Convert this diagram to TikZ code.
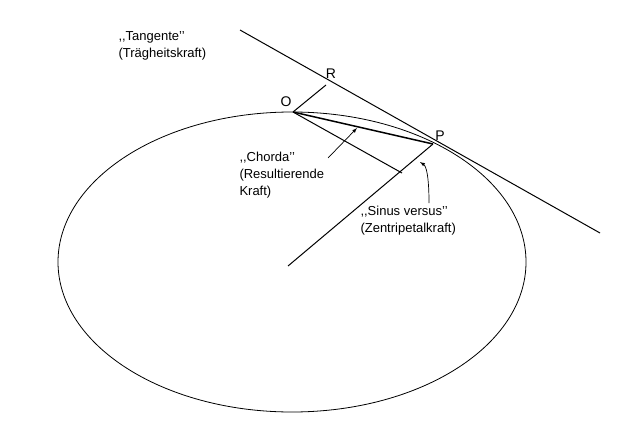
\documentclass[tikz,border=0pt]{standalone}
\usepackage{fontspec}
\setmainfont{Liberation Sans}
\begin{document}
\begin{tikzpicture}[x=1pt,y=-1pt,line width=1pt,
  lbl/.style={font=\fontsize{13}{17}\selectfont,align=left,anchor=north west,inner sep=0pt},
  pt/.style={font=\fontsize{14}{15}\selectfont,inner sep=0pt}]
\useasboundingbox (0,0) rectangle (644,433);
\draw[line width=0.8pt] (292,262) ellipse [x radius=234, y radius=150];
\coordinate (O) at (293,112);
\coordinate (P) at (433,144);
\coordinate (R) at (326,85);
\coordinate (T1) at (240,30);
\coordinate (T2) at (600,233);
\coordinate (F) at (402,173);
\coordinate (C) at (288,266);
\draw (T1) -- (T2);
\draw (O) -- (R);
\draw[line width=1.5pt] (O) -- (P);
\draw (O) -- (F);
\draw (C) -- (P);
\node[pt] at (331,74) {R};
\node[pt] at (286,102) {O};
\node[pt] at (440,136) {P};
\node[lbl] (t) at (118,31) {{,}{,}Tangente'{}'\\(Trägheitskraft)};
\node[lbl] (ch) at (239,152) {{,}{,}Chorda'{}'\\(Resultierende\\Kraft)};
\node[lbl] (sv) at (360,206) {{,}{,}Sinus versus'{}'\\(Zentripetalkraft)};
\coordinate (a1) at (328,158);
\coordinate (a2) at (357,128);
\draw[line width=0.7pt,-latex] (a1) -- (a2);
\coordinate (b1) at (429,203);
\coordinate (b2) at (420,162);
\draw[line width=0.7pt,-latex] (b1) .. controls (429,175) and (426,166) .. (b2);
\end{tikzpicture}
\end{document}
